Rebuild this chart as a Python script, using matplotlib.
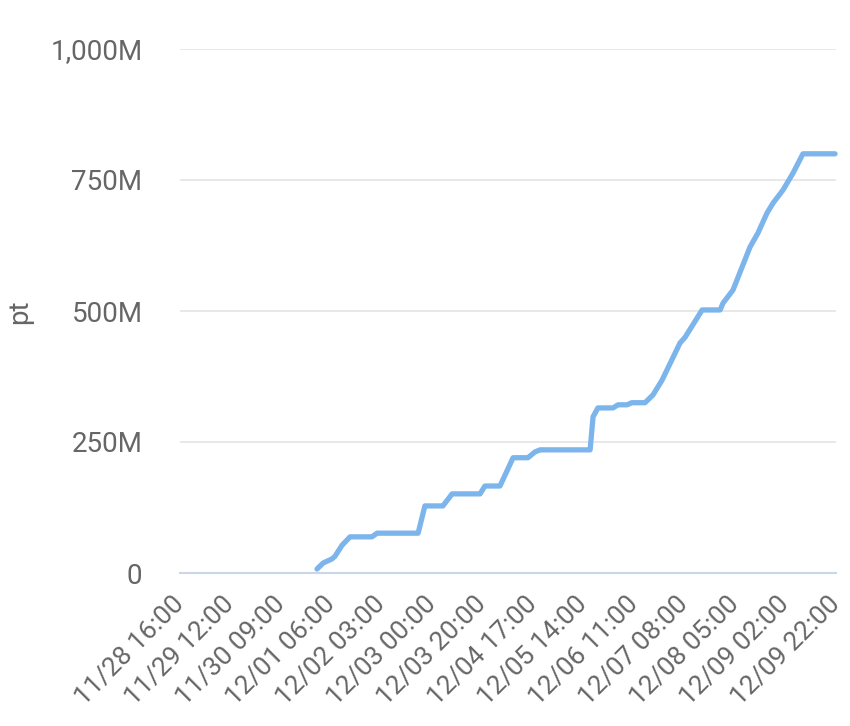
"""Cumulative pt over time (line chart)."""

import matplotlib
matplotlib.use("Agg")
import matplotlib.pyplot as plt
from matplotlib.ticker import FixedLocator, FuncFormatter

plt.rcParams["font.family"] = ["Roboto", "DejaVu Sans"]

# hours since 11/28 16:00
hours = [56.4, 58.9, 62.6, 63.8, 66.7, 70.0, 79.0, 81.1, 98.0, 100.8,
         108.2, 112.0, 123.5, 125.5, 131.7, 137.1, 143.2, 146.1, 148.2,
         168.8, 170.0, 172.0, 178.2, 180.3, 184.0, 186.0, 191.4, 194.7,
         198.4, 205.8, 207.9, 214.9, 222.3, 223.5, 227.6, 234.6, 237.9,
         241.6, 244.1, 248.2, 252.3, 256.4, 269.6]
# pt in millions
pt_m = [7.6, 19, 27, 32, 53, 69, 69, 76, 76, 128,
        128, 151, 151, 166, 166, 220, 220, 231, 235,
        235, 298, 315, 315, 321, 321, 325, 325, 340,
        368, 439, 450, 502, 502, 515, 540, 622, 649,
        687, 706, 731, 763, 800, 800]

tick_labels = ["11/28 16:00", "11/29 12:00", "11/30 09:00", "12/01 06:00",
               "12/02 03:00", "12/03 00:00", "12/03 20:00", "12/04 17:00",
               "12/05 14:00", "12/06 11:00", "12/07 08:00", "12/08 05:00",
               "12/09 02:00", "12/09 22:00"]
span_hours = 270
y_ticks = [0, 250, 500, 750, 1000]

TEXT = "#666666"

fig = plt.figure(figsize=(8.5, 7.26), dpi=100)
ax = fig.add_axes([180 / 850, 1 - 573 / 726, 656 / 850, (573 - 49) / 726])

ax.plot(hours, pt_m, color="#7cb5ec", lw=3.8, solid_joinstyle="round",
        solid_capstyle="round", clip_on=False, zorder=3)

ax.set_xlim(0, span_hours)
ax.set_ylim(0, 1000)

step = span_hours / (len(tick_labels) - 1)
ax.xaxis.set_major_locator(FixedLocator([i * step for i in range(len(tick_labels))]))
ax.set_xticklabels(tick_labels, rotation=45, ha="right", va="center",
                   rotation_mode="anchor", fontsize=19, color=TEXT)
ax.yaxis.set_major_locator(FixedLocator(y_ticks))
ax.yaxis.set_major_formatter(FuncFormatter(lambda v, p: "0" if v == 0 else f"{int(v):,}M"))
ax.tick_params(axis="y", length=0, pad=27, labelsize=20, labelcolor=TEXT)
ax.tick_params(axis="x", length=0, pad=20)

ax.grid(axis="y", color="#e6e6e6", lw=1.3)
ax.set_axisbelow(True)
for s in ("top", "right", "left"):
    ax.spines[s].set_visible(False)
ax.spines["bottom"].set_color("#ccd6eb")
ax.spines["bottom"].set_linewidth(1.5)

fig.text(20 / 850, 1 - 312 / 726, "pt", rotation=90, ha="center", va="center",
         fontsize=20, color=TEXT)

fig.savefig("out.png", dpi=100)
